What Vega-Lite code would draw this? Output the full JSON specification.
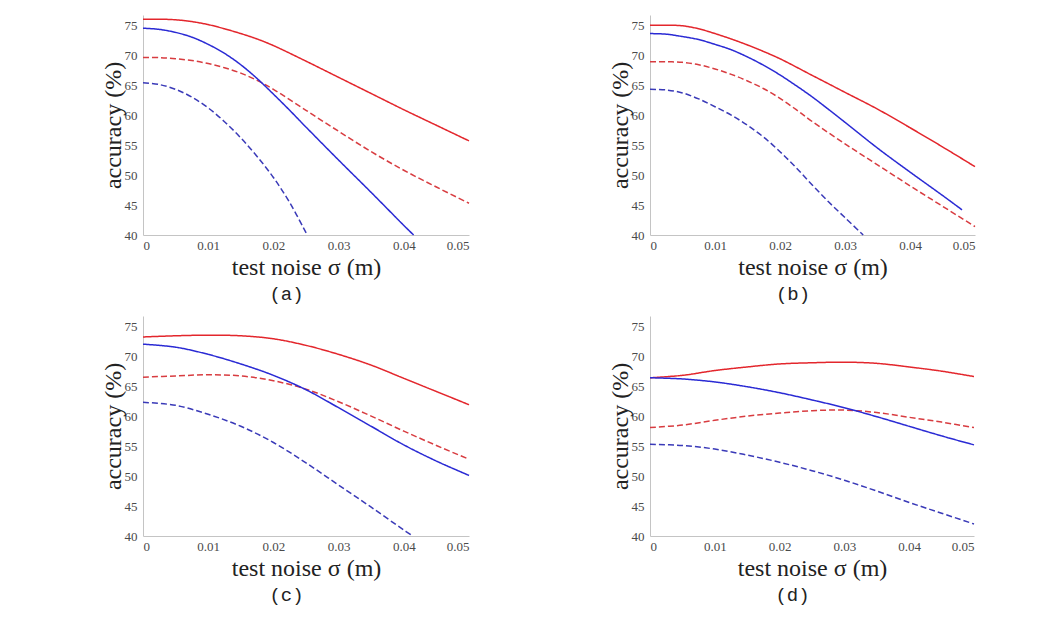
{
  "$schema": "https://vega.github.io/schema/vega-lite/v6.json",
  "padding": {"left": 101, "top": 15, "right": 5, "bottom": 5},
  "background": "white",
  "config": {
    "view": {"stroke": null},
    "axis": {"domainColor": "#c4c4c4", "domainWidth": 1, "ticks": false, "grid": false, "labelFont": "Liberation Serif", "labelFontSize": 13, "labelColor": "#4a4a4a", "titleFont": "Liberation Serif", "titleFontSize": 24, "titleFontWeight": "normal", "titleColor": "#222222"},
    "axisX": {"labelPadding": 4, "titlePadding": 3},
    "axisY": {"labelPadding": 6, "titlePadding": -1},
    "title": {"orient": "bottom", "anchor": "middle", "frame": "bounds", "font": "Liberation Mono", "fontSize": 19, "fontWeight": "normal", "color": "#222222", "offset": 6},
    "line": {"strokeWidth": 1.5, "interpolate": "catmull-rom", "clip": true}
  },
  "datasets": {
    "acc": [
      {"panel":"a","series":"red solid","x":0,"y":76.0},{"panel":"a","series":"red solid","x":0.0025,"y":76.0},{"panel":"a","series":"red solid","x":0.005,"y":75.9},{"panel":"a","series":"red solid","x":0.0075,"y":75.6},{"panel":"a","series":"red solid","x":0.01,"y":75.1},{"panel":"a","series":"red solid","x":0.0125,"y":74.4},{"panel":"a","series":"red solid","x":0.015,"y":73.6},{"panel":"a","series":"red solid","x":0.0175,"y":72.7},{"panel":"a","series":"red solid","x":0.02,"y":71.6},{"panel":"a","series":"red solid","x":0.025,"y":69.0},{"panel":"a","series":"red solid","x":0.03,"y":66.3},{"panel":"a","series":"red solid","x":0.035,"y":63.6},{"panel":"a","series":"red solid","x":0.04,"y":60.9},{"panel":"a","series":"red solid","x":0.045,"y":58.3},{"panel":"a","series":"red solid","x":0.05,"y":55.7},
      {"panel":"a","series":"red dashed","x":0,"y":69.6},{"panel":"a","series":"red dashed","x":0.0025,"y":69.6},{"panel":"a","series":"red dashed","x":0.005,"y":69.4},{"panel":"a","series":"red dashed","x":0.0075,"y":69.1},{"panel":"a","series":"red dashed","x":0.01,"y":68.6},{"panel":"a","series":"red dashed","x":0.0125,"y":67.9},{"panel":"a","series":"red dashed","x":0.015,"y":67.0},{"panel":"a","series":"red dashed","x":0.0175,"y":65.8},{"panel":"a","series":"red dashed","x":0.02,"y":64.3},{"panel":"a","series":"red dashed","x":0.025,"y":60.8},{"panel":"a","series":"red dashed","x":0.03,"y":57.3},{"panel":"a","series":"red dashed","x":0.035,"y":53.9},{"panel":"a","series":"red dashed","x":0.04,"y":50.8},{"panel":"a","series":"red dashed","x":0.045,"y":48.0},{"panel":"a","series":"red dashed","x":0.05,"y":45.3},
      {"panel":"a","series":"blue solid","x":0,"y":74.5},{"panel":"a","series":"blue solid","x":0.0025,"y":74.3},{"panel":"a","series":"blue solid","x":0.005,"y":73.8},{"panel":"a","series":"blue solid","x":0.0075,"y":73.0},{"panel":"a","series":"blue solid","x":0.01,"y":71.8},{"panel":"a","series":"blue solid","x":0.0125,"y":70.3},{"panel":"a","series":"blue solid","x":0.015,"y":68.4},{"panel":"a","series":"blue solid","x":0.0175,"y":66.1},{"panel":"a","series":"blue solid","x":0.02,"y":63.5},{"panel":"a","series":"blue solid","x":0.0225,"y":60.8},{"panel":"a","series":"blue solid","x":0.025,"y":58.0},{"panel":"a","series":"blue solid","x":0.03,"y":52.5},{"panel":"a","series":"blue solid","x":0.035,"y":47.1},{"panel":"a","series":"blue solid","x":0.04,"y":41.6},{"panel":"a","series":"blue solid","x":0.0415,"y":40.0},
      {"panel":"a","series":"blue dashed","x":0,"y":65.4},{"panel":"a","series":"blue dashed","x":0.0025,"y":65.1},{"panel":"a","series":"blue dashed","x":0.005,"y":64.3},{"panel":"a","series":"blue dashed","x":0.0075,"y":63.0},{"panel":"a","series":"blue dashed","x":0.01,"y":61.2},{"panel":"a","series":"blue dashed","x":0.0125,"y":58.9},{"panel":"a","series":"blue dashed","x":0.015,"y":56.2},{"panel":"a","series":"blue dashed","x":0.0175,"y":53.1},{"panel":"a","series":"blue dashed","x":0.02,"y":49.6},{"panel":"a","series":"blue dashed","x":0.0225,"y":45.4},{"panel":"a","series":"blue dashed","x":0.025,"y":40.4},{"panel":"a","series":"blue dashed","x":0.0252,"y":40.0},

      {"panel":"b","series":"red solid","x":0,"y":75.0},{"panel":"b","series":"red solid","x":0.0025,"y":75.0},{"panel":"b","series":"red solid","x":0.005,"y":74.9},{"panel":"b","series":"red solid","x":0.0075,"y":74.4},{"panel":"b","series":"red solid","x":0.01,"y":73.6},{"panel":"b","series":"red solid","x":0.0125,"y":72.7},{"panel":"b","series":"red solid","x":0.015,"y":71.7},{"panel":"b","series":"red solid","x":0.0175,"y":70.6},{"panel":"b","series":"red solid","x":0.02,"y":69.4},{"panel":"b","series":"red solid","x":0.025,"y":66.6},{"panel":"b","series":"red solid","x":0.03,"y":63.8},{"panel":"b","series":"red solid","x":0.035,"y":61.0},{"panel":"b","series":"red solid","x":0.04,"y":57.9},{"panel":"b","series":"red solid","x":0.045,"y":54.7},{"panel":"b","series":"red solid","x":0.05,"y":51.4},
      {"panel":"b","series":"red dashed","x":0,"y":68.9},{"panel":"b","series":"red dashed","x":0.0025,"y":68.9},{"panel":"b","series":"red dashed","x":0.005,"y":68.8},{"panel":"b","series":"red dashed","x":0.0075,"y":68.4},{"panel":"b","series":"red dashed","x":0.01,"y":67.7},{"panel":"b","series":"red dashed","x":0.0125,"y":66.8},{"panel":"b","series":"red dashed","x":0.015,"y":65.7},{"panel":"b","series":"red dashed","x":0.0175,"y":64.4},{"panel":"b","series":"red dashed","x":0.02,"y":62.8},{"panel":"b","series":"red dashed","x":0.0225,"y":60.9},{"panel":"b","series":"red dashed","x":0.025,"y":58.9},{"panel":"b","series":"red dashed","x":0.03,"y":55.2},{"panel":"b","series":"red dashed","x":0.035,"y":51.7},{"panel":"b","series":"red dashed","x":0.04,"y":48.2},{"panel":"b","series":"red dashed","x":0.045,"y":44.8},{"panel":"b","series":"red dashed","x":0.05,"y":41.4},
      {"panel":"b","series":"blue solid","x":0,"y":73.6},{"panel":"b","series":"blue solid","x":0.0025,"y":73.5},{"panel":"b","series":"blue solid","x":0.005,"y":73.1},{"panel":"b","series":"blue solid","x":0.0075,"y":72.6},{"panel":"b","series":"blue solid","x":0.01,"y":71.8},{"panel":"b","series":"blue solid","x":0.0125,"y":70.9},{"panel":"b","series":"blue solid","x":0.015,"y":69.7},{"panel":"b","series":"blue solid","x":0.0175,"y":68.3},{"panel":"b","series":"blue solid","x":0.02,"y":66.7},{"panel":"b","series":"blue solid","x":0.0225,"y":64.9},{"panel":"b","series":"blue solid","x":0.025,"y":63.0},{"panel":"b","series":"blue solid","x":0.03,"y":58.8},{"panel":"b","series":"blue solid","x":0.035,"y":54.5},{"panel":"b","series":"blue solid","x":0.04,"y":50.5},{"panel":"b","series":"blue solid","x":0.045,"y":46.6},{"panel":"b","series":"blue solid","x":0.048,"y":44.2},
      {"panel":"b","series":"blue dashed","x":0,"y":64.3},{"panel":"b","series":"blue dashed","x":0.0025,"y":64.2},{"panel":"b","series":"blue dashed","x":0.005,"y":63.7},{"panel":"b","series":"blue dashed","x":0.0075,"y":62.7},{"panel":"b","series":"blue dashed","x":0.01,"y":61.4},{"panel":"b","series":"blue dashed","x":0.0125,"y":60.0},{"panel":"b","series":"blue dashed","x":0.015,"y":58.3},{"panel":"b","series":"blue dashed","x":0.0175,"y":56.3},{"panel":"b","series":"blue dashed","x":0.02,"y":53.9},{"panel":"b","series":"blue dashed","x":0.0225,"y":51.2},{"panel":"b","series":"blue dashed","x":0.025,"y":48.3},{"panel":"b","series":"blue dashed","x":0.0275,"y":45.5},{"panel":"b","series":"blue dashed","x":0.03,"y":42.9},{"panel":"b","series":"blue dashed","x":0.0328,"y":40.0},

      {"panel":"c","series":"red solid","x":0,"y":73.2},{"panel":"c","series":"red solid","x":0.005,"y":73.4},{"panel":"c","series":"red solid","x":0.01,"y":73.5},{"panel":"c","series":"red solid","x":0.015,"y":73.4},{"panel":"c","series":"red solid","x":0.02,"y":72.9},{"panel":"c","series":"red solid","x":0.025,"y":71.8},{"panel":"c","series":"red solid","x":0.03,"y":70.3},{"panel":"c","series":"red solid","x":0.035,"y":68.5},{"panel":"c","series":"red solid","x":0.04,"y":66.3},{"panel":"c","series":"red solid","x":0.045,"y":64.1},{"panel":"c","series":"red solid","x":0.05,"y":61.9},
      {"panel":"c","series":"red dashed","x":0,"y":66.5},{"panel":"c","series":"red dashed","x":0.005,"y":66.7},{"panel":"c","series":"red dashed","x":0.01,"y":66.9},{"panel":"c","series":"red dashed","x":0.015,"y":66.7},{"panel":"c","series":"red dashed","x":0.02,"y":65.9},{"panel":"c","series":"red dashed","x":0.025,"y":64.5},{"panel":"c","series":"red dashed","x":0.03,"y":62.4},{"panel":"c","series":"red dashed","x":0.035,"y":60.0},{"panel":"c","series":"red dashed","x":0.04,"y":57.5},{"panel":"c","series":"red dashed","x":0.045,"y":55.1},{"panel":"c","series":"red dashed","x":0.05,"y":52.8},
      {"panel":"c","series":"blue solid","x":0,"y":72.0},{"panel":"c","series":"blue solid","x":0.005,"y":71.5},{"panel":"c","series":"blue solid","x":0.01,"y":70.3},{"panel":"c","series":"blue solid","x":0.015,"y":68.7},{"panel":"c","series":"blue solid","x":0.02,"y":66.8},{"panel":"c","series":"blue solid","x":0.025,"y":64.4},{"panel":"c","series":"blue solid","x":0.03,"y":61.4},{"panel":"c","series":"blue solid","x":0.035,"y":58.3},{"panel":"c","series":"blue solid","x":0.04,"y":55.2},{"panel":"c","series":"blue solid","x":0.045,"y":52.5},{"panel":"c","series":"blue solid","x":0.05,"y":50.1},
      {"panel":"c","series":"blue dashed","x":0,"y":62.3},{"panel":"c","series":"blue dashed","x":0.005,"y":61.8},{"panel":"c","series":"blue dashed","x":0.01,"y":60.3},{"panel":"c","series":"blue dashed","x":0.015,"y":58.3},{"panel":"c","series":"blue dashed","x":0.02,"y":55.6},{"panel":"c","series":"blue dashed","x":0.025,"y":52.2},{"panel":"c","series":"blue dashed","x":0.03,"y":48.5},{"panel":"c","series":"blue dashed","x":0.035,"y":44.8},{"panel":"c","series":"blue dashed","x":0.04,"y":41.0},{"panel":"c","series":"blue dashed","x":0.0414,"y":40.0},

      {"panel":"d","series":"red solid","x":0,"y":66.4},{"panel":"d","series":"red solid","x":0.005,"y":66.8},{"panel":"d","series":"red solid","x":0.01,"y":67.6},{"panel":"d","series":"red solid","x":0.015,"y":68.2},{"panel":"d","series":"red solid","x":0.02,"y":68.7},{"panel":"d","series":"red solid","x":0.025,"y":68.9},{"panel":"d","series":"red solid","x":0.03,"y":69.0},{"panel":"d","series":"red solid","x":0.035,"y":68.8},{"panel":"d","series":"red solid","x":0.04,"y":68.2},{"panel":"d","series":"red solid","x":0.045,"y":67.5},{"panel":"d","series":"red solid","x":0.05,"y":66.6},
      {"panel":"d","series":"red dashed","x":0,"y":58.1},{"panel":"d","series":"red dashed","x":0.005,"y":58.5},{"panel":"d","series":"red dashed","x":0.01,"y":59.3},{"panel":"d","series":"red dashed","x":0.015,"y":60.0},{"panel":"d","series":"red dashed","x":0.02,"y":60.5},{"panel":"d","series":"red dashed","x":0.025,"y":60.9},{"panel":"d","series":"red dashed","x":0.03,"y":61.0},{"panel":"d","series":"red dashed","x":0.035,"y":60.6},{"panel":"d","series":"red dashed","x":0.04,"y":59.8},{"panel":"d","series":"red dashed","x":0.045,"y":59.0},{"panel":"d","series":"red dashed","x":0.05,"y":58.1},
      {"panel":"d","series":"blue solid","x":0,"y":66.4},{"panel":"d","series":"blue solid","x":0.005,"y":66.2},{"panel":"d","series":"blue solid","x":0.01,"y":65.7},{"panel":"d","series":"blue solid","x":0.015,"y":64.9},{"panel":"d","series":"blue solid","x":0.02,"y":63.9},{"panel":"d","series":"blue solid","x":0.025,"y":62.7},{"panel":"d","series":"blue solid","x":0.03,"y":61.4},{"panel":"d","series":"blue solid","x":0.035,"y":59.9},{"panel":"d","series":"blue solid","x":0.04,"y":58.3},{"panel":"d","series":"blue solid","x":0.045,"y":56.7},{"panel":"d","series":"blue solid","x":0.05,"y":55.2},
      {"panel":"d","series":"blue dashed","x":0,"y":55.3},{"panel":"d","series":"blue dashed","x":0.005,"y":55.1},{"panel":"d","series":"blue dashed","x":0.01,"y":54.5},{"panel":"d","series":"blue dashed","x":0.015,"y":53.5},{"panel":"d","series":"blue dashed","x":0.02,"y":52.3},{"panel":"d","series":"blue dashed","x":0.025,"y":50.9},{"panel":"d","series":"blue dashed","x":0.03,"y":49.3},{"panel":"d","series":"blue dashed","x":0.035,"y":47.5},{"panel":"d","series":"blue dashed","x":0.04,"y":45.6},{"panel":"d","series":"blue dashed","x":0.045,"y":43.8},{"panel":"d","series":"blue dashed","x":0.05,"y":42.0}
    ]
  },
  "data": {"name": "acc"},
  "spacing": 12,
  "vconcat": [
    {
      "spacing": 136,
      "hconcat": [
        {
          "width": 326, "height": 220,
          "title": {"text": "(a)"},
          "transform": [{"filter": "datum.panel === 'a'"}],
          "mark": {"type": "line"},
          "encoding": {
            "x": {"field": "x", "type": "quantitative", "scale": {"domain": [0, 0.05], "nice": false}, "axis": {"values": [0, 0.01, 0.02, 0.03, 0.04, 0.05], "format": ".2~f", "title": "test noise σ (m)"}},
            "y": {"field": "y", "type": "quantitative", "scale": {"domain": [40, 76.7], "nice": false, "zero": false}, "axis": {"values": [40, 45, 50, 55, 60, 65, 70, 75], "title": "accuracy (%)"}},
            "color": {"field": "series", "type": "nominal", "scale": {"domain": ["red solid", "red dashed", "blue solid", "blue dashed"], "range": ["#e3262c", "#d83c40", "#2a2ad4", "#3a3ab8"]}, "legend": null},
            "strokeDash": {"field": "series", "type": "nominal", "scale": {"domain": ["red solid", "red dashed", "blue solid", "blue dashed"], "range": [[1, 0], [6, 3], [1, 0], [6, 3]]}, "legend": null}
          }
        },
        {
          "width": 325, "height": 220,
          "title": {"text": "(b)"},
          "transform": [{"filter": "datum.panel === 'b'"}],
          "mark": {"type": "line"},
          "encoding": {
            "x": {"field": "x", "type": "quantitative", "scale": {"domain": [0, 0.05], "nice": false}, "axis": {"values": [0, 0.01, 0.02, 0.03, 0.04, 0.05], "format": ".2~f", "title": "test noise σ (m)"}},
            "y": {"field": "y", "type": "quantitative", "scale": {"domain": [40, 76.7], "nice": false, "zero": false}, "axis": {"values": [40, 45, 50, 55, 60, 65, 70, 75], "title": "accuracy (%)"}},
            "color": {"field": "series", "type": "nominal", "scale": {"domain": ["red solid", "red dashed", "blue solid", "blue dashed"], "range": ["#e3262c", "#d83c40", "#2a2ad4", "#3a3ab8"]}, "legend": null},
            "strokeDash": {"field": "series", "type": "nominal", "scale": {"domain": ["red solid", "red dashed", "blue solid", "blue dashed"], "range": [[1, 0], [6, 3], [1, 0], [6, 3]]}, "legend": null}
          }
        }
      ]
    },
    {
      "spacing": 136,
      "hconcat": [
        {
          "width": 326, "height": 220,
          "title": {"text": "(c)"},
          "transform": [{"filter": "datum.panel === 'c'"}],
          "mark": {"type": "line"},
          "encoding": {
            "x": {"field": "x", "type": "quantitative", "scale": {"domain": [0, 0.05], "nice": false}, "axis": {"values": [0, 0.01, 0.02, 0.03, 0.04, 0.05], "format": ".2~f", "title": "test noise σ (m)"}},
            "y": {"field": "y", "type": "quantitative", "scale": {"domain": [40, 76.7], "nice": false, "zero": false}, "axis": {"values": [40, 45, 50, 55, 60, 65, 70, 75], "title": "accuracy (%)"}},
            "color": {"field": "series", "type": "nominal", "scale": {"domain": ["red solid", "red dashed", "blue solid", "blue dashed"], "range": ["#e3262c", "#d83c40", "#2a2ad4", "#3a3ab8"]}, "legend": null},
            "strokeDash": {"field": "series", "type": "nominal", "scale": {"domain": ["red solid", "red dashed", "blue solid", "blue dashed"], "range": [[1, 0], [6, 3], [1, 0], [6, 3]]}, "legend": null}
          }
        },
        {
          "width": 324, "height": 220,
          "title": {"text": "(d)"},
          "transform": [{"filter": "datum.panel === 'd'"}],
          "mark": {"type": "line"},
          "encoding": {
            "x": {"field": "x", "type": "quantitative", "scale": {"domain": [0, 0.05], "nice": false}, "axis": {"values": [0, 0.01, 0.02, 0.03, 0.04, 0.05], "format": ".2~f", "title": "test noise σ (m)"}},
            "y": {"field": "y", "type": "quantitative", "scale": {"domain": [40, 76.7], "nice": false, "zero": false}, "axis": {"values": [40, 45, 50, 55, 60, 65, 70, 75], "title": "accuracy (%)"}},
            "color": {"field": "series", "type": "nominal", "scale": {"domain": ["red solid", "red dashed", "blue solid", "blue dashed"], "range": ["#e3262c", "#d83c40", "#2a2ad4", "#3a3ab8"]}, "legend": null},
            "strokeDash": {"field": "series", "type": "nominal", "scale": {"domain": ["red solid", "red dashed", "blue solid", "blue dashed"], "range": [[1, 0], [6, 3], [1, 0], [6, 3]]}, "legend": null}
          }
        }
      ]
    }
  ]
}
